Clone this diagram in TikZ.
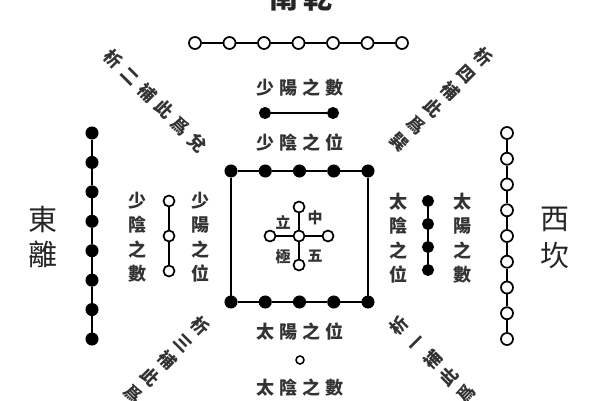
\documentclass[tikz,border=0pt]{standalone}
\usepackage{fontspec}
\newfontfamily\cjk{Noto Sans CJK TC}
\begin{document}
\begin{tikzpicture}[x=1pt,y=-1pt,
  opendot/.style={circle,draw=black,fill=white,line width=1.7pt,inner sep=0pt,minimum size=11pt},
  fulldot/.style={circle,draw=black,fill=black,line width=1pt,inner sep=0pt,minimum size=11pt},
  link/.style={line width=1.8pt},
  lbl/.style={font=\cjk\bfseries\fontsize{18}{24.5}\selectfont,inner sep=0pt,align=center,text=black!80},
  big/.style={font=\cjk\fontsize{29}{35}\selectfont,inner sep=0pt,align=center,text=black!85},
  small/.style={font=\cjk\bfseries\fontsize{15}{18}\selectfont,inner sep=0pt,text=black!80},
  diag/.style={font=\cjk\bfseries\fontsize{17.5}{23.8}\selectfont,inner sep=0pt,align=center,text=black!80}]
\useasboundingbox (0,0) rectangle (600,400);
\fill[white] (0,0) rectangle (600,400);

% top title
\node[big,font=\cjk\bfseries\fontsize{29}{35}\selectfont,anchor=base] (title) at (301,8) {南\kern5pt乾};

% top row of seven open circles
\foreach \i in {0,...,6} \node[opendot,minimum size=12pt] (t\i) at ({195+34.5*\i},43) {};
\foreach \i [evaluate=\i as \j using int(\i+1)] in {0,...,5} \draw[link] (t\i) -- (t\j);

% shaoyang number
\node[lbl] (sysh) at (300,88) {少\kern5pt陽\kern5pt之\kern5pt數};
\node[fulldot] (f0) at (265,113) {};
\node[fulldot] (f1) at (333,113) {};
\draw[link] (f0) -- (f1);
\node[lbl] (syw) at (300,143) {少\kern5pt陰\kern5pt之\kern5pt位};

% square
\foreach \i in {0,...,4} {
  \node[fulldot,minimum size=12pt] (q\i) at ({231+34.25*\i},171) {};
  \node[fulldot,minimum size=12pt] (p\i) at ({231+34.25*\i},302) {};
}
\foreach \i [evaluate=\i as \j using int(\i+1)] in {0,...,3} {
  \draw[link] (q\i) -- (q\j);
  \draw[link] (p\i) -- (p\j);
}
\draw[link] (q0) -- (p0);
\draw[link] (q4) -- (p4);

% centre cross
\node[opendot] (c0) at (299,236) {};
\node[opendot] (c1) at (299,207) {};
\node[opendot] (c2) at (299,265) {};
\node[opendot] (c3) at (270,236) {};
\node[opendot] (c4) at (328,236) {};
\foreach \i in {1,...,4} \draw[link] (c0) -- (c\i);
\node[small] (li) at (283,222) {立};
\node[small] (zh) at (315,218) {中};
\node[small] (ji) at (283,257) {極};
\node[small] (wu) at (315,256) {五};

% left outer: eight filled dots
\foreach \i in {0,...,7} \node[fulldot,minimum size=12pt] (l\i) at (92,{133+29.43*\i}) {};
\foreach \i [evaluate=\i as \j using int(\i+1)] in {0,...,6} \draw[link] (l\i) -- (l\j);
\node[big] (east) at (43,237) {東\\離};

% right outer: nine open circles
\foreach \i in {0,...,8} \node[opendot,minimum size=12pt] (r\i) at (507,{133+25.75*\i}) {};
\foreach \i [evaluate=\i as \j using int(\i+1)] in {0,...,7} \draw[link] (r\i) -- (r\j);
\node[big,font=\cjk\fontsize{29}{37}\selectfont] (west) at (555,238) {西\\坎};

% inner left
\foreach \i in {0,1,2} \node[opendot] (a\i) at (169,{201+35*\i}) {};
\draw[link] (a0) -- (a1);
\draw[link] (a1) -- (a2);
\node[lbl] (lsh) at (137,237) {少\\陰\\之\\數};
\node[lbl] (lsw) at (200,237) {少\\陽\\之\\位};

% inner right
\foreach \i in {0,...,3} \node[fulldot] (b\i) at (428,{201+23*\i}) {};
\foreach \i [evaluate=\i as \j using int(\i+1)] in {0,1,2} \draw[link] (b\i) -- (b\j);
\node[lbl] (rtw) at (398,238) {太\\陰\\之\\位};
\node[lbl] (rts) at (462,238) {太\\陽\\之\\數};

% bottom
\node[lbl] (byw) at (300,332) {太\kern5pt陽\kern5pt之\kern5pt位};
\node[opendot,minimum size=8pt,line width=1.5pt] (bo) at (300,360) {};
\node[lbl] (bys) at (300,388) {太\kern5pt陰\kern5pt之\kern5pt數};

% diagonal texts
\node[diag,rotate=-45] (dul) at (155.5,101) {析\kern6.3pt二\kern6.3pt補\kern6.3pt此\kern6.3pt爲\kern6.3pt兌};
\node[diag,rotate=-45] (dur) at (441.5,99.5) {析\\四\\補\\此\\爲\\巽};
\node[diag,rotate=-45] (dll) at (167,360) {析\\三\\補\\此\\爲};
\node[diag,rotate=45] (dlr) at (432.5,359.5) {析\\一\\補\\此\\爲};
\end{tikzpicture}
\end{document}
